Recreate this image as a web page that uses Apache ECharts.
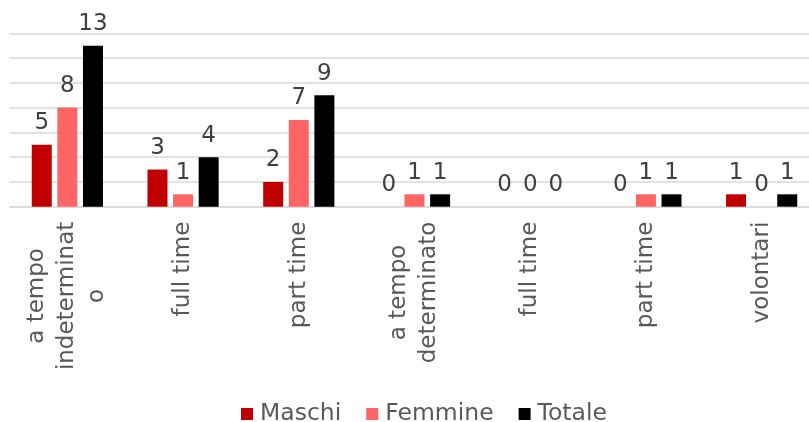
<!DOCTYPE html>
<html>
<head>
<meta charset="utf-8">
<script src="https://cdn.jsdelivr.net/npm/echarts@6/dist/echarts.min.js"></script>
<style>
html,body{margin:0;padding:0;background:#fff;}
#chart{width:809px;height:422px;}
</style>
</head>
<body>
<div id="chart"></div>
<script>
const categories = ['a tempo\nindeterminat\no', 'full time', 'part time', 'a tempo\ndeterminato', 'full time', 'part time', 'volontari'];
const maschi = [5, 3, 2, 0, 0, 0, 1];
const femmine = [8, 1, 7, 1, 0, 1, 0];
const totale = [13, 4, 9, 1, 0, 1, 1];
const yTicks = [0, 2, 4, 6, 8, 10, 12, 14];

const FONT = 'DejaVu Sans';
const TXT = '#595959';

const chart = echarts.init(document.getElementById('chart'));

function barSeries(name, data, color) {
  return {
    name: name,
    type: 'bar',
    data: data,
    barWidth: 20,
    barGap: '28%',
    itemStyle: { color: color },
    label: {
      show: true,
      position: 'top',
      distance: 10,
      color: '#404040',
      fontFamily: FONT,
      fontSize: 23
    }
  };
}

chart.setOption({
  animation: false,
  legend: {
    data: ['Maschi', 'Femmine', 'Totale'],
    left: 236,
    top: 397,
    itemWidth: 12,
    itemHeight: 12,
    itemGap: 25,
    icon: 'rect',
    textStyle: { color: TXT, fontFamily: FONT, fontSize: 23.5, padding: [0, 0, 0, 2] }
  },
  grid: { left: 9.5, top: 33.3, width: 810, bottom: 215.3, containLabel: false, outerBoundsMode: 'none' },
  xAxis: {
    type: 'category',
    data: categories,
    axisTick: { show: false },
    axisLine: { lineStyle: { color: '#D9D9D9', width: 1.5 } },
    axisLabel: {
      interval: 0,
      rotate: 90,
      margin: 15,
      formatter: function (v) {
        return v.split('\n').map(function (s) { return '{c|' + s + '}'; }).join('\n');
      },
      rich: {
        c: { align: 'center', color: TXT, fontFamily: FONT, fontSize: 23, lineHeight: 30 }
      }
    }
  },
  yAxis: {
    type: 'value',
    min: yTicks[0],
    max: yTicks[yTicks.length - 1],
    interval: yTicks[1] - yTicks[0],
    axisLabel: { show: false },
    axisLine: { show: false },
    axisTick: { show: false },
    splitLine: { lineStyle: { color: '#D9D9D9', width: 1.5 } }
  },
  series: [
    barSeries('Maschi', maschi, '#C00000'),
    barSeries('Femmine', femmine, '#FF6565'),
    barSeries('Totale', totale, '#000000')
  ]
});
</script>
</body>
</html>
